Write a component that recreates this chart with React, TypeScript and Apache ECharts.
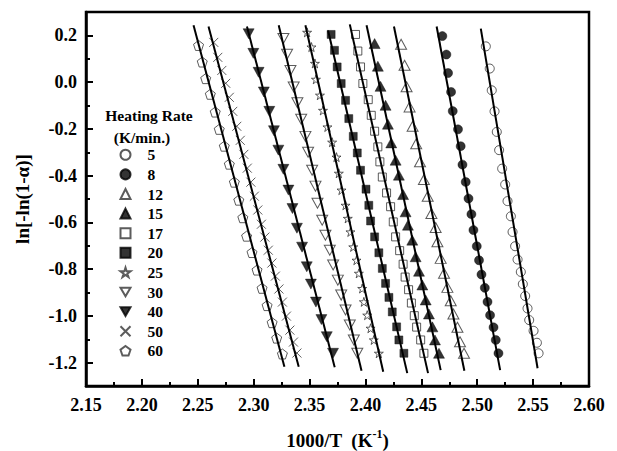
import React, { useEffect, useRef } from "react";
import * as echarts from "echarts";

// Heating rates (K/min.) = legend entries
const heatingRates = ["5", "8", "12", "15", "17", "20", "25", "30", "40", "50", "60"];

// Measured points, x = 1000/T (K^-1), y = ln[-ln(1-α)]
const x5 = [2.5077, 2.5112, 2.5130, 2.5155, 2.5175, 2.5196, 2.5223, 2.5250, 2.5271, 2.5301, 2.5316, 2.5339, 2.5361, 2.5390, 2.5408, 2.5429, 2.5450, 2.5465, 2.5504, 2.5534, 2.5549];
const y5 = [0.153, 0.058, -0.035, -0.125, -0.213, -0.291, -0.370, -0.438, -0.509, -0.574, -0.641, -0.702, -0.759, -0.812, -0.864, -0.915, -0.968, -1.018, -1.064, -1.115, -1.160];
const x8 = [2.4688, 2.4724, 2.4739, 2.4766, 2.4781, 2.4828, 2.4852, 2.4868, 2.4897, 2.4922, 2.4948, 2.4966, 2.4996, 2.5016, 2.5038, 2.5068, 2.5092, 2.5115, 2.5146, 2.5166, 2.5190];
const y8 = [0.197, 0.118, 0.039, -0.042, -0.124, -0.202, -0.274, -0.353, -0.427, -0.498, -0.565, -0.633, -0.702, -0.762, -0.823, -0.880, -0.940, -0.997, -1.049, -1.103, -1.160];
const x12 = [2.4319, 2.4350, 2.4368, 2.4395, 2.4422, 2.4454, 2.4488, 2.4523, 2.4557, 2.4590, 2.4628, 2.4644, 2.4673, 2.4703, 2.4733, 2.4763, 2.4787, 2.4823, 2.4846, 2.4882];
const y12 = [0.162, 0.072, -0.020, -0.106, -0.189, -0.264, -0.341, -0.417, -0.488, -0.562, -0.622, -0.683, -0.754, -0.818, -0.878, -0.935, -0.992, -1.049, -1.111, -1.160];
const x15 = [2.4082, 2.4111, 2.4135, 2.4180, 2.4201, 2.4231, 2.4270, 2.4299, 2.4337, 2.4359, 2.4380, 2.4419, 2.4449, 2.4479, 2.4509, 2.4539, 2.4568, 2.4599, 2.4622, 2.4658];
const y15 = [0.165, 0.068, -0.018, -0.099, -0.180, -0.260, -0.334, -0.398, -0.481, -0.555, -0.612, -0.676, -0.747, -0.809, -0.868, -0.932, -0.992, -1.047, -1.103, -1.160];
const x17 = [2.3911, 2.3932, 2.3956, 2.3977, 2.4025, 2.4052, 2.4082, 2.4111, 2.4129, 2.4151, 2.4189, 2.4225, 2.4249, 2.4270, 2.4306, 2.4337, 2.4355, 2.4386, 2.4411, 2.4437, 2.4458, 2.4494, 2.4523];
const y17 = [0.204, 0.133, 0.065, -0.006, -0.075, -0.142, -0.210, -0.277, -0.341, -0.406, -0.474, -0.533, -0.598, -0.662, -0.721, -0.779, -0.834, -0.888, -0.945, -0.999, -1.048, -1.103, -1.160];
const x20 = [2.3693, 2.3723, 2.3747, 2.3783, 2.3822, 2.3851, 2.3891, 2.3927, 2.3956, 2.4005, 2.4030, 2.4046, 2.4082, 2.4120, 2.4151, 2.4180, 2.4210, 2.4240, 2.4279, 2.4299, 2.4344];
const y20 = [0.204, 0.136, 0.065, -0.006, -0.078, -0.156, -0.232, -0.303, -0.377, -0.458, -0.527, -0.594, -0.662, -0.730, -0.797, -0.861, -0.921, -0.983, -1.047, -1.103, -1.160];
const x25 = [2.3478, 2.3517, 2.3548, 2.3557, 2.3593, 2.3620, 2.3660, 2.3702, 2.3741, 2.3762, 2.3786, 2.3822, 2.3842, 2.3866, 2.3891, 2.3920, 2.3941, 2.3971, 2.3986, 2.4016, 2.4046, 2.4075, 2.4120];
const y25 = [0.213, 0.150, 0.080, 0.012, -0.056, -0.121, -0.192, -0.257, -0.321, -0.390, -0.462, -0.527, -0.583, -0.641, -0.705, -0.762, -0.818, -0.883, -0.940, -0.997, -1.053, -1.103, -1.160];
const x30 = [2.3266, 2.3299, 2.3329, 2.3358, 2.3391, 2.3425, 2.3463, 2.3487, 2.3523, 2.3553, 2.3571, 2.3613, 2.3642, 2.3681, 2.3711, 2.3753, 2.3783, 2.3822, 2.3860, 2.3896, 2.3927];
const y30 = [0.187, 0.119, 0.050, -0.021, -0.088, -0.159, -0.232, -0.300, -0.377, -0.445, -0.518, -0.591, -0.655, -0.719, -0.782, -0.847, -0.911, -0.975, -1.039, -1.103, -1.160];
const x40 = [2.2955, 2.2997, 2.3044, 2.3091, 2.3140, 2.3181, 2.3221, 2.3266, 2.3311, 2.3347, 2.3387, 2.3433, 2.3475, 2.3512, 2.3557, 2.3606, 2.3654, 2.3710];
const y40 = [0.207, 0.123, 0.042, -0.042, -0.125, -0.208, -0.291, -0.373, -0.462, -0.541, -0.625, -0.706, -0.790, -0.864, -0.941, -1.016, -1.089, -1.160];
const x50 = [2.2643, 2.2679, 2.2715, 2.2750, 2.2782, 2.2813, 2.2849, 2.2880, 2.2912, 2.2943, 2.2975, 2.3006, 2.3037, 2.3069, 2.3100, 2.3131, 2.3163, 2.3194, 2.3226, 2.3257, 2.3293, 2.3324, 2.3356, 2.3387];
const y50 = [0.170, 0.106, 0.050, -0.005, -0.065, -0.125, -0.189, -0.249, -0.309, -0.368, -0.428, -0.488, -0.547, -0.608, -0.663, -0.719, -0.774, -0.830, -0.885, -0.941, -1.001, -1.061, -1.112, -1.159];
const x60 = [2.2507, 2.2540, 2.2571, 2.2612, 2.2656, 2.2692, 2.2737, 2.2782, 2.2827, 2.2867, 2.2903, 2.2937, 2.2985, 2.3030, 2.3075, 2.3120, 2.3165, 2.3206, 2.3257];
const y60 = [0.157, 0.086, 0.015, -0.052, -0.128, -0.202, -0.274, -0.351, -0.428, -0.505, -0.580, -0.659, -0.729, -0.804, -0.882, -0.956, -1.029, -1.095, -1.163];

// Linear fit lines: [x, y] end points
const fit5 = [[2.5032, 0.229], [2.5540, -1.224]];
const fit8 = [[2.4637, 0.238], [2.5205, -1.232]];
const fit12 = [[2.4255, 0.238], [2.4885, -1.235]];
const fit15 = [[2.4010, 0.243], [2.4673, -1.232]];
const fit17 = [[2.3860, 0.247], [2.4560, -1.245]];
const fit20 = [[2.3666, 0.221], [2.4374, -1.245]];
const fit25 = [[2.3463, 0.243], [2.4159, -1.239]];
const fit30 = [[2.3224, 0.243], [2.3965, -1.235]];
const fit40 = [[2.2940, 0.238], [2.3725, -1.220]];
const fit50 = [[2.2596, 0.238], [2.3403, -1.218]];
const fit60 = [[2.2462, 0.243], [2.3275, -1.218]];

const xsList = [x5, x8, x12, x15, x17, x20, x25, x30, x40, x50, x60];
const ysList = [y5, y8, y12, y15, y17, y20, y25, y30, y40, y50, y60];
const fitList = [fit5, fit8, fit12, fit15, fit17, fit20, fit25, fit30, fit40, fit50, fit60];

const FONT = '"Liberation Serif", "Times New Roman", serif';

const STAR = "path://M50,0 L61,35 L98,35 L68,57 L79,91 L50,70 L21,91 L32,57 L2,35 L39,35 Z";
const PENTAGON = "path://M50,0 L98,35 L79,91 L21,91 L2,35 Z";
const CROSS = "path://M0,0 L100,100 M100,0 L0,100";
const DOWN_TRI = "path://M0,0 L100,0 L50,87 Z";

const markerStyles: any[] = [
  { symbol: "circle", size: 9, filled: false },
  { symbol: "circle", size: 9, filled: true },
  { symbol: "triangle", size: [11, 10], filled: false },
  { symbol: "triangle", size: [11, 10], filled: true },
  { symbol: "rect", size: 8, filled: false },
  { symbol: "rect", size: 8, filled: true },
  { symbol: STAR, size: 9, filled: false },
  { symbol: DOWN_TRI, size: [11, 10], filled: false },
  { symbol: DOWN_TRI, size: [11, 10], filled: true },
  { symbol: CROSS, size: 9, filled: false },
  { symbol: PENTAGON, size: 10, filled: false },
];

export default function App() {
  const ref = useRef<HTMLDivElement>(null);
  useEffect(() => {
    if (!ref.current) return;
    const chart = echarts.init(ref.current, null, { renderer: "svg" });

    const scatterSeries = heatingRates.map((rate, i) => {
      const m = markerStyles[i];
      return {
        type: "scatter",
        name: rate,
        data: xsList[i].map((x, j) => [x, ysList[i][j]]),
        symbol: m.symbol,
        symbolSize: m.size,
        itemStyle: m.filled
          ? { color: "#000", borderColor: "#000", borderWidth: 0.5 }
          : { color: m.symbol === CROSS ? "none" : "#fff", borderColor: "#333", borderWidth: 1 },
        z: 3,
      };
    });
    const lineSeries = heatingRates.map((rate, i) => ({
      type: "line",
      name: "fit " + rate,
      data: fitList[i],
      showSymbol: false,
      symbol: "none",
      lineStyle: { color: "#000", width: 2 },
      z: 4,
      silent: true,
    }));

    const axisLabelStyle = { fontFamily: FONT, fontWeight: "bold", fontSize: 18, color: "#000" };

    chart.setOption({
      animation: false,
      backgroundColor: "#fff",
      grid: {
        left: 78, right: 28, top: 4, bottom: 65,
        outerBoundsMode: "none", containLabel: false,
        show: true, borderColor: "#000", borderWidth: 2.5, backgroundColor: "transparent",
      },
      legend: {
        orient: "vertical",
        left: 110,
        top: 138,
        padding: 0,
        itemWidth: 10,
        itemHeight: 10,
        itemGap: 2,
        selectedMode: false,
        data: heatingRates,
        textStyle: { fontFamily: FONT, fontWeight: "bold", fontSize: 15.5, color: "#000", lineHeight: 17.6, padding: [0, 0, 0, 12] },
      },
      graphic: [
        { type: "text", x: 141, y: 107, style: { text: "Heating Rate", font: `bold 15.5px ${FONT}`, fill: "#000", textAlign: "center", textVerticalAlign: "middle" } },
        { type: "text", x: 134, y: 129, style: { text: "(K/min.)", font: `bold 15.5px ${FONT}`, fill: "#000", textAlign: "center", textVerticalAlign: "middle" } },
      ],
      xAxis: {
        type: "value",
        min: 2.15,
        max: 2.6,
        interval: 0.05,
        name: "1000/T  (K{sup|-1})",
        nameLocation: "middle",
        nameGap: 42,
        nameTextStyle: {
          fontFamily: FONT, fontWeight: "bold", fontSize: 19, color: "#000", lineHeight: 24,
          rich: { sup: { fontFamily: FONT, fontWeight: "bold", fontSize: 12, verticalAlign: "top", lineHeight: 12, color: "#000" } },
        },
        axisLine: { onZero: false, lineStyle: { color: "#000", width: 2.5 } },
        axisTick: { inside: true, length: 7, lineStyle: { color: "#000", width: 2 } },
        minorTick: { show: true, splitNumber: 2, length: 4, lineStyle: { color: "#000", width: 2 } },
        splitLine: { show: false },
        axisLabel: { ...axisLabelStyle, margin: 10, formatter: (v: number) => v.toFixed(2) },
      },
      yAxis: [
        {
          type: "value",
          position: "left",
          min: -1.3,
          max: 0.3,
          splitNumber: 16,
          minInterval: 0.1,
          maxInterval: 0.1,
          name: "ln[-ln(1-α)]",
          nameLocation: "middle",
          nameRotate: 90,
          nameGap: 54,
          nameTextStyle: { fontFamily: FONT, fontWeight: "bold", fontSize: 19, color: "#000" },
          axisLine: { show: true, onZero: false, lineStyle: { color: "#000", width: 2.5 } },
          axisTick: { inside: true, length: 4, lineStyle: { color: "#000", width: 2 } },
          splitLine: { show: false },
          axisLabel: {
            ...axisLabelStyle,
            margin: 9,
            formatter: (v: number) => (Math.abs(Math.round(v * 10)) % 2 === 0 ? v.toFixed(1) : ""),
          },
        },
        {
          type: "value",
          position: "left",
          min: -1.3,
          max: 0.3,
          splitNumber: 8,
          minInterval: 0.2,
          maxInterval: 0.2,
          axisLine: { show: false, onZero: false },
          axisTick: { inside: true, length: 7, lineStyle: { color: "#000", width: 2 } },
          splitLine: { show: false },
          axisLabel: { show: false },
        },
      ],
      series: [...scatterSeries, ...lineSeries],
    });
    return () => chart.dispose();
  }, []);
  return <div ref={ref} style={{ width: 609, height: 443 }} />;
}
